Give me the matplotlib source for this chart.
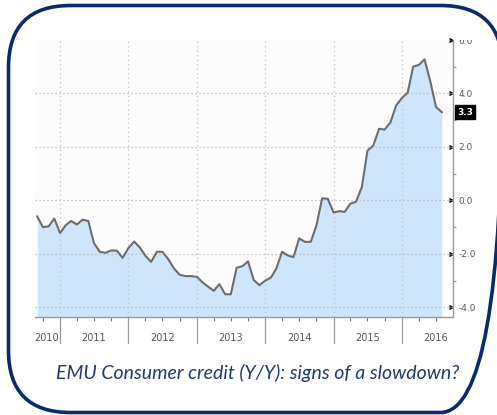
import matplotlib
matplotlib.use('Agg')
import matplotlib.pyplot as plt
import matplotlib.dates as mdates
from matplotlib.patches import FancyBboxPatch
from matplotlib.transforms import Bbox, TransformedBbox
import numpy as np
import pandas as pd

# monthly consumer credit growth, y/y %, Sep 2010 .. Aug 2016
start_month = '2010-09-01'
credit_yoy = [
    -0.60, -1.00, -0.97, -0.68,                                     # 2010
    -1.22, -0.92, -0.77, -0.90, -0.72, -0.77, -1.60, -1.92, -1.96, -1.87, -1.88, -2.15,  # 2011
    -1.78, -1.54, -1.75, -2.07, -2.30, -1.92, -1.92, -2.20, -2.55, -2.78, -2.83, -2.83,  # 2012
    -2.86, -3.07, -3.22, -3.38, -3.13, -3.51, -3.51, -2.52, -2.46, -2.28, -2.98, -3.17,  # 2013
    -3.00, -2.88, -2.55, -1.92, -2.06, -2.12, -1.42, -1.55, -1.55, -0.95, 0.08, 0.06,    # 2014
    -0.45, -0.40, -0.43, -0.12, -0.05, 0.50, 1.86, 2.05, 2.68, 2.65, 2.92, 3.55,         # 2015
    3.83, 4.03, 5.00, 5.07, 5.28, 4.45, 3.50, 3.30,                                      # 2016
]
last_label = '3.3'
years = [2010, 2011, 2012, 2013, 2014, 2015, 2016]
y_major = [-4.0, -2.0, 0.0, 2.0, 4.0, 6.0]
y_minor = [-3.0, -1.0, 1.0, 3.0, 5.0]
caption = 'EMU Consumer credit (Y/Y): signs of a slowdown?'

dates = pd.date_range(start_month, periods=len(credit_yoy), freq='MS')
xd = mdates.date2num(dates)

W, H = 497, 415
fig = plt.figure(figsize=(W / 100, H / 100), dpi=100)

# chart panel, pixel box: x 35..453, y 40..317
ax = fig.add_axes([35 / W, 1 - 317 / H, (453 - 35) / W, (317 - 40) / H])
ax.set_facecolor('#fcfcfc')

x_lo = mdates.date2num(pd.Timestamp('2010-08-20'))
x_hi = mdates.date2num(pd.Timestamp('2016-09-30'))
y_lo, y_hi = -4.36, 5.96
ax.set_xlim(x_lo, x_hi)
ax.set_ylim(y_lo, y_hi)

ax.fill_between(xd, credit_yoy, y_lo, color='#cfe5fb', lw=0, zorder=1)
ax.plot(xd, credit_yoy, color='#6d6d6d', lw=1.5, zorder=3, solid_joinstyle='round')

# dotted grid
year_starts = [mdates.date2num(pd.Timestamp(f'{y}-01-01')) for y in years[1:]]
for v in y_major[:-1]:
    ax.axhline(v, color='#b5b5b5', lw=0.9, ls=(0, (1, 2.2)), zorder=2)
for xv in year_starts:
    ax.axvline(xv, color='#c2c2c2', lw=0.9, ls=(0, (1, 2.6)), zorder=2)

for side in ['top', 'left']:
    ax.spines[side].set_visible(False)
for side in ['right', 'bottom']:
    ax.spines[side].set_color('#9a9a9a')
    ax.spines[side].set_linewidth(1.0)

# right hand value axis
ax.yaxis.tick_right()
ax.set_yticks(y_major)
ax.set_yticks(y_minor, minor=True)
ax.set_yticklabels([f'{v:.1f}' for v in y_major])
ax.tick_params(axis='y', which='major', length=0, pad=4, labelsize=6.5,
               labelcolor='#5a5a5a')
ax.tick_params(axis='y', which='minor', length=2, color='#9a9a9a', width=0.8)
for t in ax.yaxis.get_major_ticks():
    t.tick2line.set_marker(5)
    t.tick2line.set_markersize(3.5)
    t.tick2line.set_color('#444444')
    t.tick2line.set_visible(True)
clip = TransformedBbox(Bbox([[0, 0], [1, 1 - 40 / H]]), fig.transFigure)
for lbl in ax.get_yticklabels():
    lbl.set_family(['Liberation Sans Narrow', 'DejaVu Sans'])
    lbl.set_clip_on(True)
    lbl.set_clip_box(clip)

# quarterly ticks and year separators on the time axis
quarters = mdates.date2num(pd.date_range('2010-10-01', '2016-07-01', freq='QS'))
quarters = [q for q in quarters if q not in year_starts]
ax.set_xticks(quarters)
ax.set_xticklabels([])
ax.tick_params(axis='x', length=3, color='#777777', width=0.8, direction='out')
for xv in year_starts:
    ax.plot([xv, xv], [0, -0.095], transform=ax.get_xaxis_transform(),
            color='#9a9a9a', lw=0.9, clip_on=False)

label_pos = [mdates.date2num(pd.Timestamp('2010-10-20'))] + \
    [mdates.date2num(pd.Timestamp(f'{y}-07-01')) for y in years[1:]]
for y, xp in zip(years, label_pos):
    ax.text(xp, -0.075, str(y), transform=ax.get_xaxis_transform(),
            ha='center', va='center', fontsize=7, color='#555555',
            family=['Liberation Sans Narrow', 'DejaVu Sans'])

# last value tag
ax.annotate(last_label, xy=(1.0, credit_yoy[-1]), xycoords=('axes fraction', 'data'),
            xytext=(3, 0), textcoords='offset points', ha='left', va='center',
            fontsize=6.5, color='white', fontweight='bold',
            family=['Liberation Sans Narrow', 'DejaVu Sans'],
            bbox=dict(boxstyle='square,pad=0.25', fc='black', ec='black'))

# caption
fig.text(258 / W, 1 - 373 / H, caption, ha='center', va='center', fontsize=14,
         style='italic', color='#1f3a6b', family=['Lato', 'DejaVu Sans'])

# rounded outer frame, drawn in pixel units
frame_ax = fig.add_axes([0, 0, 1, 1], zorder=-1)
frame_ax.set_xlim(0, W)
frame_ax.set_ylim(H, 0)
frame_ax.axis('off')
frame = FancyBboxPatch((8.5, 5.5), 494, 407, boxstyle='round,pad=0,rounding_size=62',
                       fc='none', ec='#0b2a68', lw=2.6, clip_on=False)
frame_ax.add_patch(frame)

fig.savefig('out.png', dpi=100)
